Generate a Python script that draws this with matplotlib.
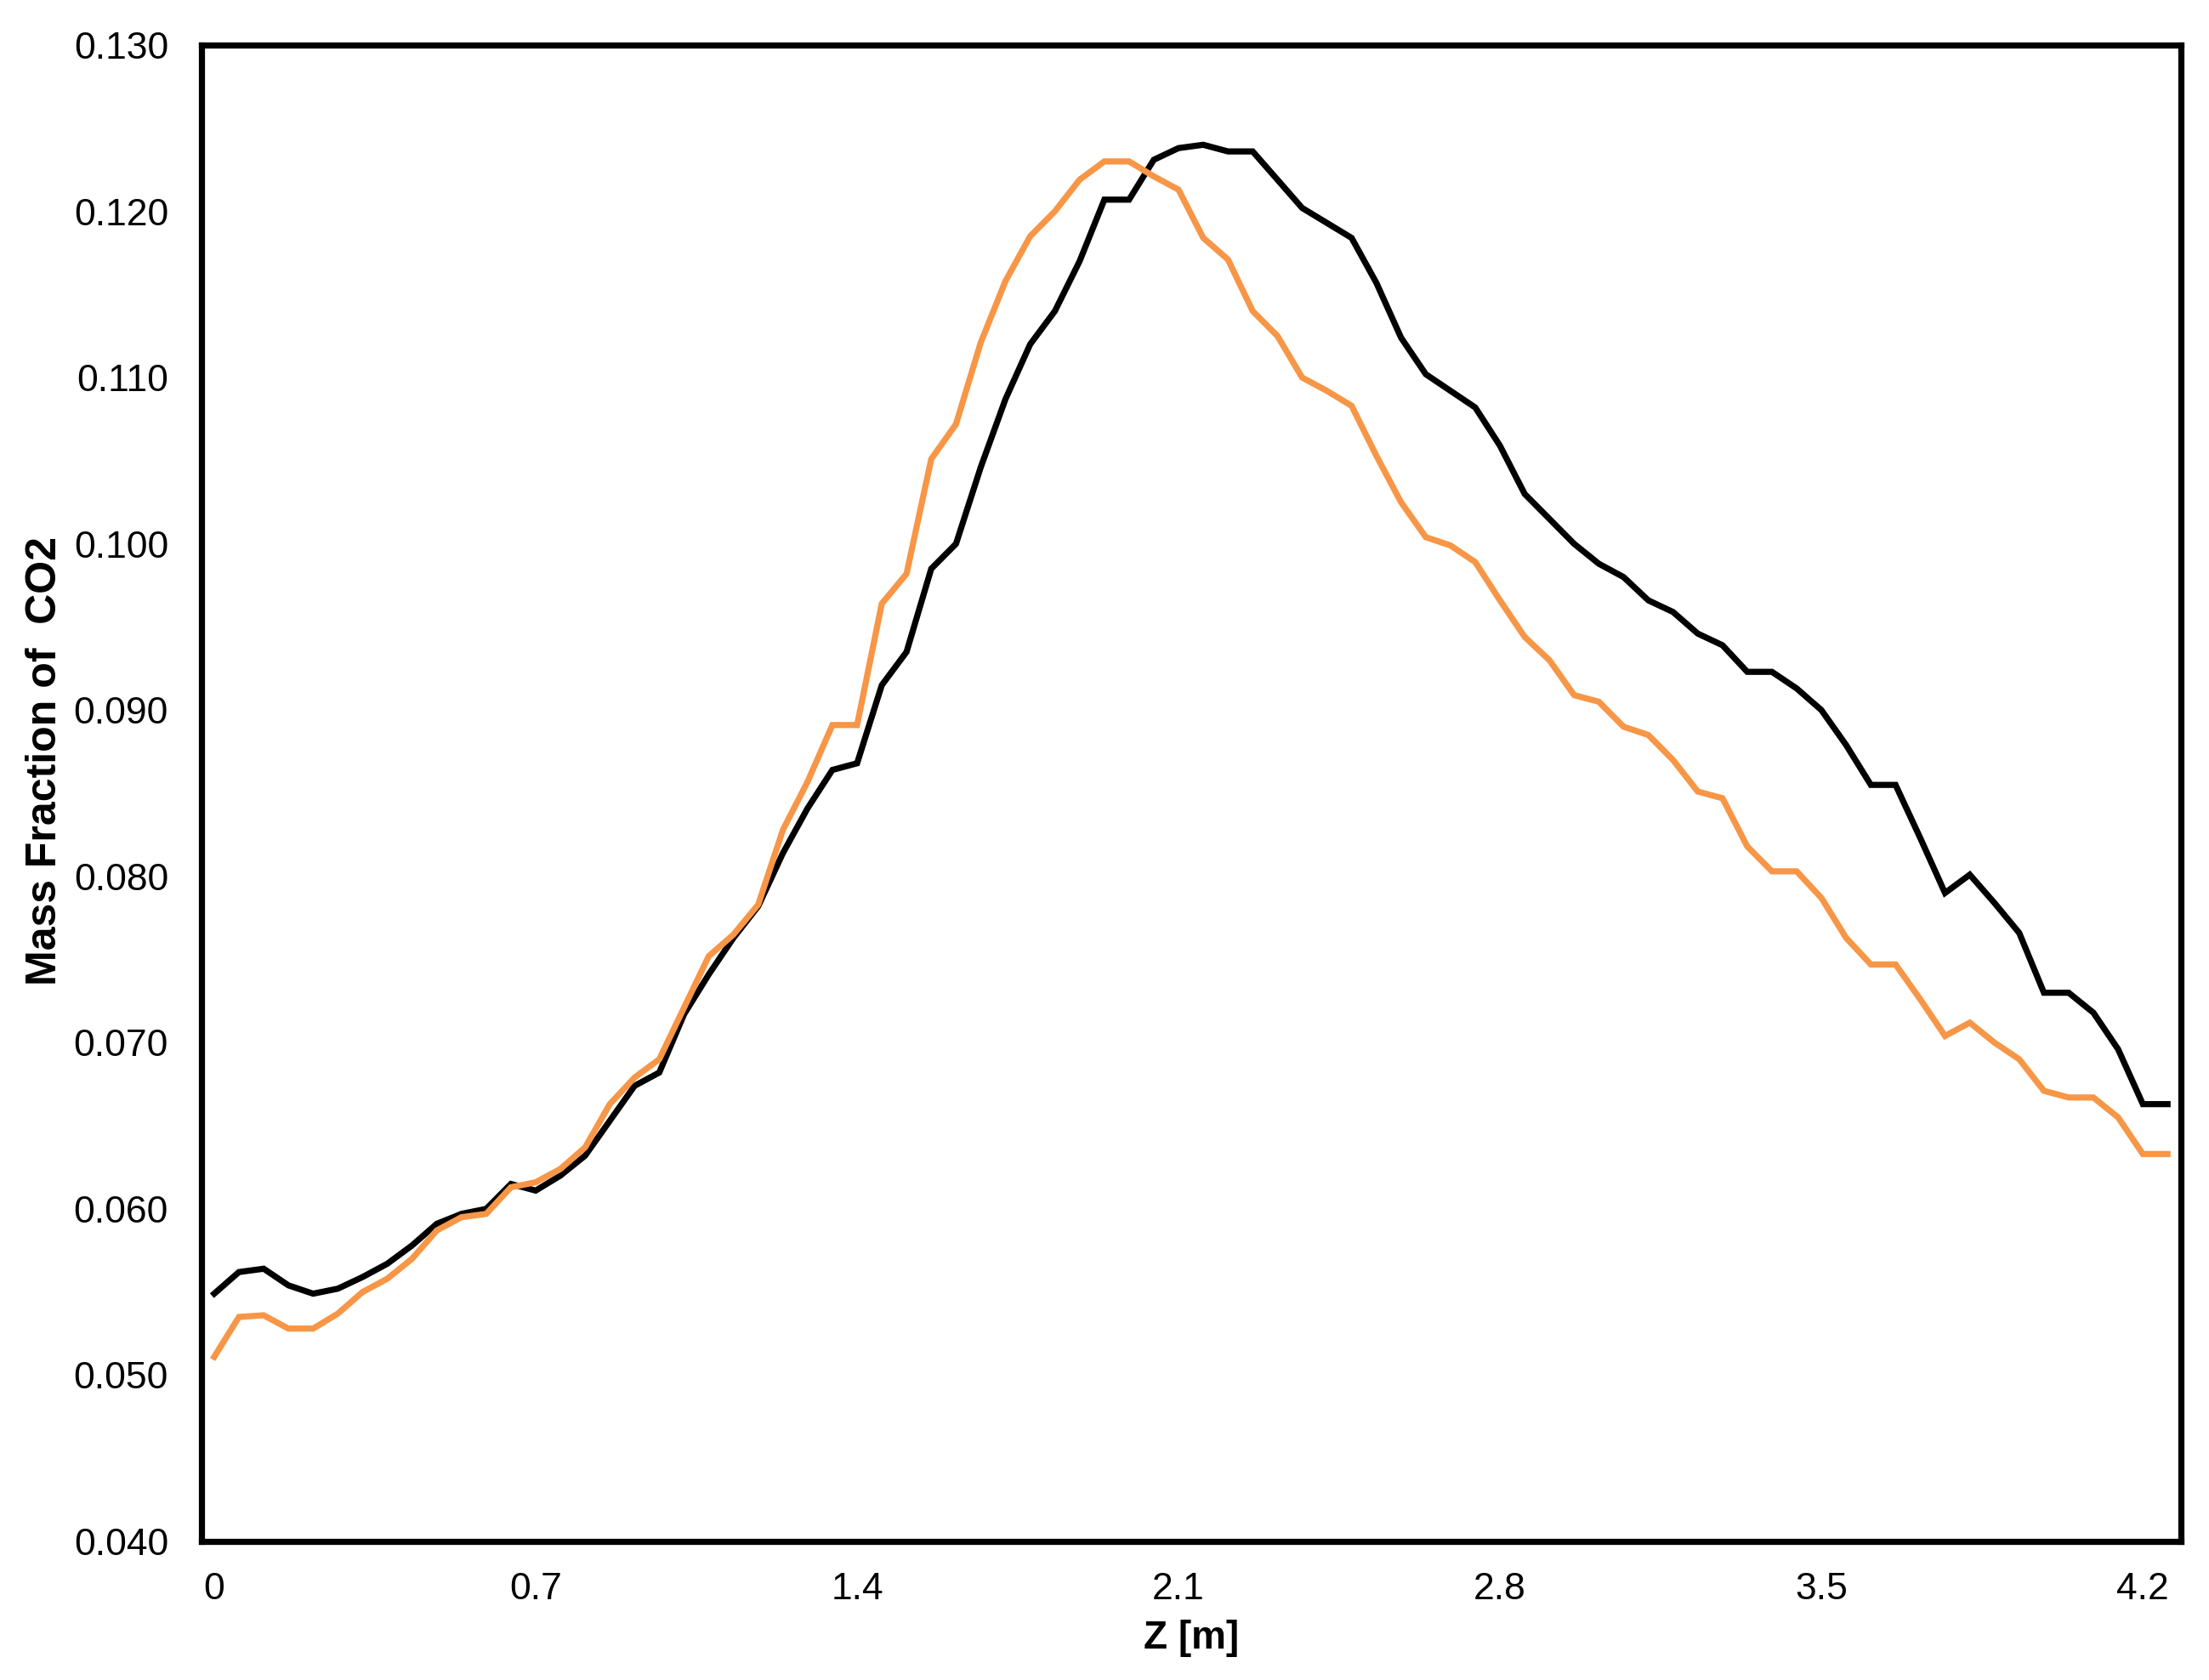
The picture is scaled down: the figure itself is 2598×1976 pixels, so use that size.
import matplotlib
matplotlib.use("Agg")
import matplotlib.pyplot as plt
from matplotlib.ticker import FormatStrFormatter

## Z positions along the axis [m]
z = [0.0000, 0.0538, 0.1077, 0.1615, 0.2154, 0.2692, 0.3231, 0.3769, 0.4308, 0.4846,
     0.5385, 0.5923, 0.6462, 0.7000, 0.7538, 0.8077, 0.8615, 0.9154, 0.9692, 1.0231,
     1.0769, 1.1308, 1.1846, 1.2385, 1.2923, 1.3462, 1.4000, 1.4538, 1.5077, 1.5615,
     1.6154, 1.6692, 1.7231, 1.7769, 1.8308, 1.8846, 1.9385, 1.9923, 2.0462, 2.1000,
     2.1538, 2.2077, 2.2615, 2.3154, 2.3692, 2.4231, 2.4769, 2.5308, 2.5846, 2.6385,
     2.6923, 2.7462, 2.8000, 2.8538, 2.9077, 2.9615, 3.0154, 3.0692, 3.1231, 3.1769,
     3.2308, 3.2846, 3.3385, 3.3923, 3.4462, 3.5000, 3.5538, 3.6077, 3.6615, 3.7154,
     3.7692, 3.8231, 3.8769, 3.9308, 3.9846, 4.0385, 4.0923, 4.1462, 4.2000, 4.2538]

## CO2 mass fraction, black curve
co2_black = [0.0549, 0.0562, 0.0564, 0.0554, 0.0549, 0.0552, 0.0559, 0.0567, 0.0578, 0.0591,
             0.0597, 0.0600, 0.0615, 0.0611, 0.0620, 0.0632, 0.0653, 0.0674, 0.0682, 0.0717,
             0.0741, 0.0763, 0.0782, 0.0814, 0.0841, 0.0864, 0.0868, 0.0915, 0.0935, 0.0985,
             0.1000, 0.1046, 0.1087, 0.1120, 0.1140, 0.1170, 0.1207, 0.1207, 0.1231, 0.1238,
             0.1240, 0.1236, 0.1236, 0.1219, 0.1202, 0.1193, 0.1184, 0.1157, 0.1124, 0.1102,
             0.1092, 0.1082, 0.1059, 0.1030, 0.1015, 0.1000, 0.0988, 0.0980, 0.0966, 0.0959,
             0.0946, 0.0939, 0.0923, 0.0923, 0.0913, 0.0900, 0.0879, 0.0855, 0.0855, 0.0823,
             0.0790, 0.0801, 0.0784, 0.0766, 0.0730, 0.0730, 0.0718, 0.0696, 0.0663, 0.0663]

## CO2 mass fraction, orange curve
co2_orange = [0.0511, 0.0535, 0.0536, 0.0528, 0.0528, 0.0537, 0.0550, 0.0558, 0.0570, 0.0587,
              0.0595, 0.0597, 0.0613, 0.0616, 0.0624, 0.0637, 0.0663, 0.0679, 0.0690, 0.0721,
              0.0752, 0.0765, 0.0783, 0.0828, 0.0857, 0.0891, 0.0891, 0.0964, 0.0982, 0.1051,
              0.1072, 0.1121, 0.1158, 0.1185, 0.1200, 0.1219, 0.1230, 0.1230, 0.1221, 0.1213,
              0.1184, 0.1171, 0.1140, 0.1125, 0.1100, 0.1092, 0.1083, 0.1053, 0.1025, 0.1004,
              0.0999, 0.0989, 0.0966, 0.0944, 0.0930, 0.0909, 0.0905, 0.0890, 0.0885, 0.0870,
              0.0851, 0.0847, 0.0818, 0.0803, 0.0803, 0.0787, 0.0763, 0.0747, 0.0747, 0.0726,
              0.0704, 0.0712, 0.0700, 0.0690, 0.0671, 0.0667, 0.0667, 0.0655, 0.0633, 0.0633]

x_ticks = [0, 0.7, 1.4, 2.1, 2.8, 3.5, 4.2]
x_tick_labels = ["0", "0.7", "1.4", "2.1", "2.8", "3.5", "4.2"]
y_ticks = [0.04, 0.05, 0.06, 0.07, 0.08, 0.09, 0.10, 0.11, 0.12, 0.13]

plt.rcParams['font.family'] = ['Liberation Sans', 'DejaVu Sans']

fig = plt.figure(figsize=(25.98, 19.76), dpi=100)
ax = fig.add_axes([0.0912, 0.0825, 0.8961, 0.8907])

ax.plot(z, co2_black, color="black", linewidth=5.2, solid_joinstyle="miter")
ax.plot(z, co2_orange, color="#F79646", linewidth=5.2, solid_joinstyle="miter")

ax.set_xlim(-0.0278, 4.283)
ax.set_ylim(0.040, 0.130)

ax.set_xticks(x_ticks)
ax.set_xticklabels(x_tick_labels)
ax.set_yticks(y_ticks)
ax.yaxis.set_major_formatter(FormatStrFormatter("%.3f"))
ax.tick_params(axis="both", length=0, labelsize=32)
ax.tick_params(axis="y", pad=28)
ax.tick_params(axis="x", pad=26)

for s in ax.spines.values():
    s.set_linewidth(5.2)
    s.set_color("black")

ax.set_xlabel("Z [m]", fontsize=33, fontweight="bold")
ax.set_ylabel("Mass Fraction of  CO2", fontsize=36, fontweight="bold")
ax.xaxis.set_label_coords(0.5, -0.0648)
ax.xaxis.label.set_va("center")
ax.yaxis.set_label_coords(-0.079, 0.5216)
ax.yaxis.label.set_va("center")

fig.savefig("out.png", dpi=100)
